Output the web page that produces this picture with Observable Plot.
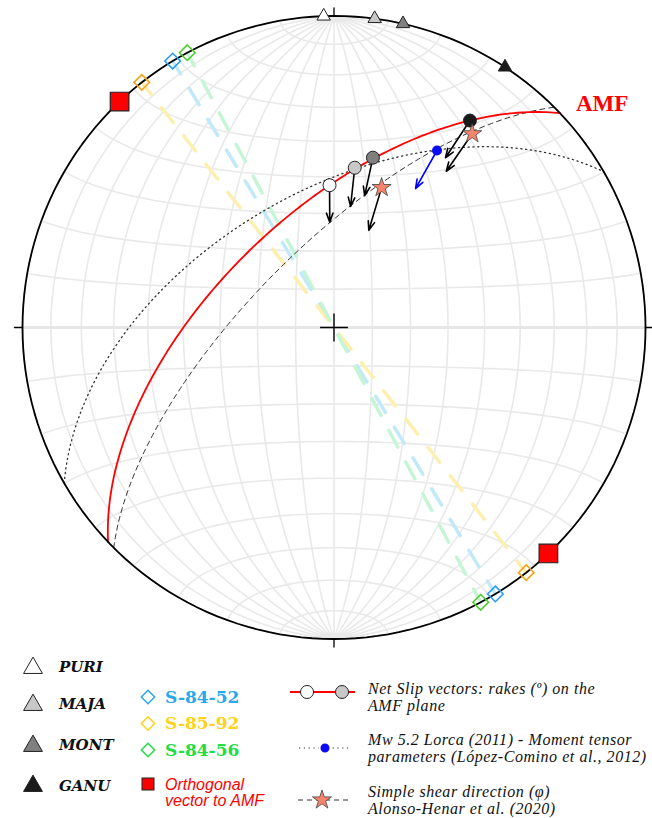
<!DOCTYPE html>
<html><head><meta charset="utf-8">
<script src="https://cdn.jsdelivr.net/npm/d3@7"></script>
<script src="https://cdn.jsdelivr.net/npm/@observablehq/plot@0.6"></script>
<style>
body{margin:0;background:#fff;}
#wrap{position:relative;width:652px;height:818px;overflow:hidden;background:#fff;}
#chart{position:absolute;left:0;top:0;}
.lg{position:absolute;white-space:nowrap;line-height:1;}
.st{font-family:"DejaVu Serif",serif;font-weight:bold;font-style:italic;font-size:15px;color:#111;}
.sm{font-family:"DejaVu Serif",serif;font-weight:bold;font-size:17px;}
.or{font-family:"Liberation Sans",Arial,sans-serif;font-style:italic;font-size:16px;color:#ff0000;line-height:16px;}
.rt{font-family:"Liberation Serif","Times New Roman",serif;font-style:italic;font-size:16px;letter-spacing:0.55px;color:#111;line-height:16px;height:16px;}
#lgsvg{position:absolute;left:0;top:640px;}
</style></head>
<body><div id="wrap"><div id="chart"></div>
<svg id="lgsvg" width="652" height="178"></svg>
<div class="lg st" style="left:59px;top:660px">PURI</div>
<div class="lg st" style="left:59px;top:697px">MAJA</div>
<div class="lg st" style="left:59px;top:738px">MONT</div>
<div class="lg st" style="left:59px;top:779px">GANU</div>
<div class="lg sm" style="left:165px;top:689px;color:#29a8ec">S-84-52</div>
<div class="lg sm" style="left:165px;top:715px;color:#ffd21a">S-85-92</div>
<div class="lg sm" style="left:165px;top:742px;color:#22dd44">S-84-56</div>
<div class="lg or" style="left:165px;top:777px">Orthogonal<br>vector to AMF</div>
<div class="lg rt" style="left:368px;top:681px">Net Slip vectors: rakes (º) on the</div>
<div class="lg rt" style="left:368px;top:697.5px">AMF plane</div>
<div class="lg rt" style="left:368px;top:732px">Mw 5.2 Lorca (2011) - Moment tensor</div>
<div class="lg rt" style="left:368px;top:748.5px">parameters (López-Comino et al., 2012)</div>
<div class="lg rt" style="left:368px;top:784px">Simple shear direction (φ)</div>
<div class="lg rt" style="left:368px;top:800.5px">Alonso-Henar et al. (2020)</div>
</div>
<script>
// ---------------- data (trend / plunge in degrees, lower hemisphere) ----------------
const stations = ["PURI", "MAJA", "MONT", "GANU"];
const stationTrend = [358.1, 7.5, 12.8, 33.3];
const stationPlunge = [0, 0, 0, 0];

const samples = ["S-84-52", "S-85-92", "S-84-56"];
const sampleTrend = [328.8, 321.9, 331.9]; // horizontal lineation / vertical plane strike

const planes = ["AMF", "Simple shear", "Moment tensor"];
const planeStrike = [226.5, 225.0, 240.0]; // right-hand rule
const planeDip = [60, 69, 54];

const orthoTrend = [316.5, 136.5];
const orthoPlunge = [0, 0];

const slipNames = ["PURI", "MAJA", "MONT", "GANU"];
const slipTrend = [358.2, 7.4, 12.9, 33.3];
const slipPlunge = [52.3, 47.1, 43.4, 21.6];
const slipTipTrend = [357.7, 7.8, 13.1, 33.3];
const slipTipPlunge = [62.3, 57.8, 54.2, 35.1];

const shearTrend = [35.5, 18.8];
const shearPlunge = [24.6, 50.8];
const shearTipTrend = [35.7, 19.7];
const shearTipPlunge = [38.2, 62.9];

const mtTrend = [30.2];
const mtPlunge = [34.6];
const mtTipTrend = [30.4];
const mtTipPlunge = [47.1];

// ---------------- styles ----------------
const stationFill = ["#ffffff", "#c8c8c8", "#7f7f7f", "#1a1a1a"];
const sampleStroke = ["#2a9df0", "#f5a31a", "#4ccc2a"];
const sampleFaint = ["#c2e9fa", "#fdf0ae", "#c5f5d5"];
const legendSampleColor = ["#29a8ec", "#ffd21a", "#22dd44"];

// ---------------- geometry helpers ----------------
const rad = Math.PI / 180;
function ll(t, p) {
  const tr = t * rad, pr = p * rad;
  const n = Math.cos(pr) * Math.cos(tr), e = Math.cos(pr) * Math.sin(tr), dn = Math.sin(pr);
  return [Math.atan2(e, dn) / rad, Math.asin(Math.max(-1, Math.min(1, n))) / rad];
}
function greatCircle(strike, dip) {
  const pole = ll(strike - 90, 90 - dip);
  const ring = d3.geoCircle().center(pole).radius(90).precision(1)().coordinates[0];
  return {type: "LineString", coordinates: ring};
}
const pt = (t, p, extra = {}) => { const [lon, lat] = ll(t, p); return {lon, lat, ...extra}; };

const stationPts = stations.map((s, i) => pt(stationTrend[i], stationPlunge[i], {i}));
const samplePts = samples.flatMap((s, i) => [pt(sampleTrend[i], 0, {i}), pt(sampleTrend[i] + 180, 0, {i})]);
const sampleLines = samples.map((s, i) => ({type: "Feature", properties: {i}, geometry: {type: "LineString",
  coordinates: [ll(sampleTrend[i], 0), [0, 0], ll(sampleTrend[i] + 180, 0)]}}));
const planeLines = planes.map((p, i) => greatCircle(planeStrike[i], planeDip[i]));
const orthoPts = orthoTrend.map((t, i) => pt(t, orthoPlunge[i]));
const slipPts = slipNames.map((s, i) => { const a = ll(slipTrend[i], slipPlunge[i]), b = ll(slipTipTrend[i], slipTipPlunge[i]);
  return {lon: a[0], lat: a[1], lon2: b[0], lat2: b[1], i}; });
const shearPts = shearTrend.map((t, i) => { const a = ll(t, shearPlunge[i]), b = ll(shearTipTrend[i], shearTipPlunge[i]);
  return {lon: a[0], lat: a[1], lon2: b[0], lat2: b[1]}; });
const mtPts = mtTrend.map((t, i) => { const a = ll(t, mtPlunge[i]), b = ll(mtTipTrend[i], mtTipPlunge[i]);
  return {lon: a[0], lat: a[1], lon2: b[0], lat2: b[1]}; });
const amfEnd = [pt(planeStrike[0] + 180, 0, {label: "AMF"})];
const compass = [{lon: 0, lat: 90, r: 0}, {lon: 90, lat: 0, r: 90}, {lon: 0, lat: -90, r: 180}, {lon: -90, lat: 0, r: 270}];

// Schmidt (equal-area) net, lower hemisphere
const R = 311.5;
const proj = d3.geoAzimuthalEqualArea().rotate([0, 0]).scale(R / Math.SQRT2).translate([333.5, 327])
  .clipAngle(90.0001).precision(0.1);

const graticule = d3.geoGraticule().extentMajor([[-180, -90], [180, 90]]).extentMinor([[-180, -90], [180, 90]]).step([10, 10])();
const equator = {type: "LineString", coordinates: d3.range(-90, 91, 5).map(x => [x, 0])};

const tickShape = {draw(context, l) { context.moveTo(0, 0); context.lineTo(0, -l); }};

const chart = Plot.plot({
  width: 652, height: 652,
  projection: proj,
  style: {background: "transparent", overflow: "visible"},
  marks: [
    Plot.geo(graticule, {stroke: "#e9e9e9", strokeWidth: 1.6}),
    Plot.geo(equator, {stroke: "#e6e6e6", strokeWidth: 3}),
    Plot.geo(sampleLines, {stroke: d => sampleFaint[d.properties.i], strokeWidth: 3.5, strokeDasharray: "19,17", strokeDashoffset: 4}),
    Plot.geo([planeLines[2]], {stroke: "#333", strokeWidth: 1.3, strokeDasharray: "1.2,3.6"}),
    Plot.geo([planeLines[1]], {stroke: "#333", strokeWidth: 1, strokeDasharray: "5,4"}),
    Plot.geo([planeLines[0]], {stroke: "#ff0000", strokeWidth: 1.8}),
    Plot.geo({type: "Sphere"}, {stroke: "black", strokeWidth: 1.8}),
    Plot.vector(compass, {x: "lon", y: "lat", rotate: "r", length: 8, anchor: "start", shape: tickShape, stroke: "black", strokeWidth: 1.3}),
    Plot.dot(samplePts, {x: "lon", y: "lat", symbol: "diamond2", r: 7, stroke: d => sampleStroke[d.i], strokeWidth: 1.6, fill: "none"}),
    Plot.dot(orthoPts, {x: "lon", y: "lat", symbol: "square", r: 10.5, fill: "#ff0000", stroke: "#222", strokeWidth: 1.2}),
    Plot.dot(stationPts, {x: "lon", y: "lat", symbol: "triangle", r: 5, fill: d => stationFill[d.i], stroke: "#222", strokeWidth: 1}),
    Plot.arrow(slipPts, {x1: "lon", y1: "lat", x2: "lon2", y2: "lat2", stroke: "black", strokeWidth: 1.6, headLength: 9, headAngle: 40}),
    Plot.arrow(shearPts, {x1: "lon", y1: "lat", x2: "lon2", y2: "lat2", stroke: "black", strokeWidth: 1.6, headLength: 9, headAngle: 40}),
    Plot.arrow(mtPts, {x1: "lon", y1: "lat", x2: "lon2", y2: "lat2", stroke: "#0000ff", strokeWidth: 1.6, headLength: 9, headAngle: 40}),
    Plot.dot(slipPts, {x: "lon", y: "lat", r: 6.5, fill: d => stationFill[d.i], stroke: "#222", strokeWidth: 1}),
    Plot.dot(shearPts, {x: "lon", y: "lat", symbol: "star", r: 6, fill: "#f4846a", stroke: "#444", strokeWidth: 0.8}),
    Plot.dot(mtPts, {x: "lon", y: "lat", r: 5, fill: "#0a0af5", stroke: "none"}),
    Plot.dot([{lon: 0, lat: 0}], {x: "lon", y: "lat", symbol: "plus", r: 9, stroke: "black", strokeWidth: 1.4}),
    Plot.text(amfEnd, {x: "lon", y: "lat", text: "label", dx: 16, dy: -9, textAnchor: "start", fill: "#ff0000",
      fontFamily: "Liberation Serif, Times New Roman, serif", fontWeight: "bold", fontSize: 23})
  ]
});
document.getElementById("chart").appendChild(chart);

// ---------------- legend glyphs ----------------
const lg = d3.select("#lgsvg");
const triY = [28, 65, 106, 146];
stations.forEach((s, i) => {
  lg.append("path").attr("d", d3.symbol(d3.symbolTriangle, Math.PI * 7 * 7)()).attr("transform", `translate(33,${triY[i]})`)
    .attr("fill", stationFill[i]).attr("stroke", "#222").attr("stroke-width", 1);
});
const diaY = [57, 83.5, 110];
samples.forEach((s, i) => {
  lg.append("path").attr("d", d3.symbol(d3.symbolDiamond2, Math.PI * 6 * 6)()).attr("transform", `translate(148,${diaY[i]})`)
    .attr("fill", "none").attr("stroke", legendSampleColor[i]).attr("stroke-width", 1.5);
});
lg.append("rect").attr("x", 142).attr("y", 138).attr("width", 12).attr("height", 12).attr("fill", "#ff0000").attr("stroke", "#222").attr("stroke-width", 1);
// net slip legend
lg.append("line").attr("x1", 290).attr("x2", 355).attr("y1", 52).attr("y2", 52).attr("stroke", "#ff0000").attr("stroke-width", 1.8);
lg.append("circle").attr("cx", 307).attr("cy", 52).attr("r", 6.5).attr("fill", "#fff").attr("stroke", "#222");
lg.append("circle").attr("cx", 342).attr("cy", 52).attr("r", 6.5).attr("fill", "#c8c8c8").attr("stroke", "#222");
// moment tensor legend
lg.append("line").attr("x1", 299).attr("x2", 350).attr("y1", 108).attr("y2", 108).attr("stroke", "#333").attr("stroke-width", 1.2).attr("stroke-dasharray", "1.2,3.6");
lg.append("circle").attr("cx", 325).attr("cy", 108).attr("r", 5.5).attr("fill", "#0a0af5").attr("stroke", "#fff").attr("stroke-width", 2);
// shear legend
lg.append("line").attr("x1", 298).attr("x2", 350).attr("y1", 160).attr("y2", 160).attr("stroke", "#333").attr("stroke-width", 1).attr("stroke-dasharray", "5,4");
lg.append("path").attr("d", d3.symbol(d3.symbolStar, Math.PI * 6 * 6)()).attr("transform", "translate(322,160)")
  .attr("fill", "#f4846a").attr("stroke", "#444").attr("stroke-width", 0.8);
</script>
</body></html>
